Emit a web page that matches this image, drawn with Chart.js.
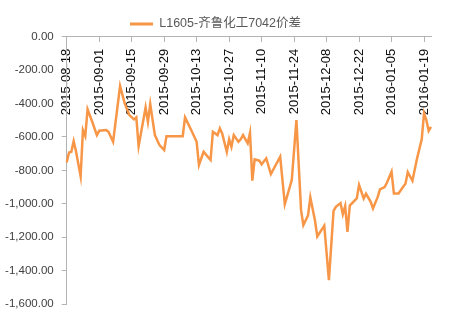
<!DOCTYPE html>
<html>
<head>
<meta charset="utf-8">
<script src="https://cdn.jsdelivr.net/npm/chart.js@4"></script>
<style>
html, body { margin: 0; padding: 0; background: #fff; }
</style>
</head>
<body>
<canvas id="chart" width="453" height="320"></canvas>
<script>
const seriesName = 'L1605-齐鲁化工7042价差';

const dates = [
    '2015-08-18', '2015-08-19', '2015-08-20', '2015-08-21', '2015-08-22', '2015-08-24', '2015-08-25', '2015-08-26',
    '2015-08-27', '2015-08-29', '2015-08-31', '2015-09-01', '2015-09-04', '2015-09-05', '2015-09-07', '2015-09-10',
    '2015-09-12', '2015-09-14', '2015-09-16', '2015-09-17', '2015-09-18', '2015-09-21', '2015-09-22', '2015-09-23',
    '2015-09-25', '2015-09-27', '2015-09-29', '2015-09-30', '2015-10-07', '2015-10-08', '2015-10-11', '2015-10-13',
    '2015-10-14', '2015-10-16', '2015-10-19', '2015-10-20', '2015-10-22', '2015-10-23', '2015-10-24', '2015-10-26',
    '2015-10-27', '2015-10-28', '2015-10-29', '2015-10-31', '2015-11-01', '2015-11-02', '2015-11-04', '2015-11-05',
    '2015-11-06', '2015-11-07', '2015-11-09', '2015-11-10', '2015-11-12', '2015-11-14', '2015-11-18', '2015-11-20',
    '2015-11-23', '2015-11-25', '2015-11-27', '2015-11-28', '2015-11-30', '2015-12-01', '2015-12-03', '2015-12-04',
    '2015-12-07', '2015-12-09', '2015-12-11', '2015-12-12', '2015-12-14', '2015-12-15', '2015-12-16', '2015-12-17',
    '2015-12-18', '2015-12-21', '2015-12-22', '2015-12-24', '2015-12-25', '2015-12-27', '2015-12-28', '2015-12-30',
    '2015-12-31', '2016-01-02', '2016-01-03', '2016-01-05', '2016-01-06', '2016-01-08', '2016-01-10', '2016-01-11',
    '2016-01-12', '2016-01-14', '2016-01-16', '2016-01-18', '2016-01-19', '2016-01-20', '2016-01-21', '2016-01-22'
];

const spread = [
    -753, -693, -689, -625, -685, -835, -559, -595,
    -435, -509, -589, -563, -559, -569, -629, -295,
    -399, -469, -495, -483, -655, -423, -509, -403,
    -589, -649, -678, -595, -595, -483, -569, -629,
    -768, -689, -738, -569, -589, -549, -579, -689,
    -614, -659, -589, -629, -614, -589, -638, -575,
    -862, -734, -742, -764, -728, -822, -718, -1002,
    -858, -499, -1038, -1128, -1070, -962, -1100, -1196,
    -1131, -1457, -1043, -1018, -996, -1063, -1014, -1168,
    -1011, -968, -888, -968, -940, -988, -1028, -960,
    -914, -900, -874, -808, -938, -938, -898, -880,
    -811, -862, -728, -614, -459, -499, -563, -539
];

const tickDates = [
    '2015-08-18', '2015-09-01', '2015-09-15', '2015-09-29', '2015-10-13', '2015-10-27',
    '2015-11-10', '2015-11-24', '2015-12-08', '2015-12-22', '2016-01-05', '2016-01-19'
];

const yMin = -1600;
const yMax = 0;
const yStep = 200;

// date axis: one category per calendar day
const days = [];
const last = new Date(dates[dates.length - 1] + 'T00:00:00Z');
for (let d = new Date(dates[0] + 'T00:00:00Z'); d <= last; d.setUTCDate(d.getUTCDate() + 1)) {
    days.push(d.toISOString().slice(0, 10));
}
const byDate = {};
dates.forEach((d, i) => { byDate[d] = spread[i]; });
const values = days.map(d => (d in byDate ? byDate[d] : null));

const axisColor = '#b3b3b3';
const fontFamily = '"Liberation Sans", Arial, "Noto Sans CJK SC", sans-serif';

new Chart(document.getElementById('chart'), {
    type: 'line',
    data: {
        labels: days,
        datasets: [{
            label: seriesName,
            data: values,
            borderColor: '#f79646',
            backgroundColor: '#f79646',
            borderWidth: 2.5,
            pointRadius: 0,
            tension: 0,
            spanGaps: true
        }]
    },
    options: {
        responsive: false,
        animation: false,
        devicePixelRatio: 1,
        layout: {
            padding: { top: 7.75, right: 22, bottom: 16, left: 0 }
        },
        plugins: {
            legend: {
                position: 'top',
                maxHeight: 29,
                labels: {
                    boxWidth: 23,
                    boxHeight: 3,
                    padding: 10,
                    color: '#595959',
                    font: { family: fontFamily, size: 12.5 },
                    generateLabels: chart => Chart.defaults.plugins.legend.labels.generateLabels(chart)
                        .map(item => ({ ...item, lineWidth: 0 }))
                }
            },
            tooltip: { enabled: false }
        },
        scales: {
            x: {
                type: 'category',
                position: { y: 0 },
                grid: {
                    drawOnChartArea: false,
                    tickLength: 5,
                    color: axisColor
                },
                border: { color: axisColor },
                ticks: {
                    autoSkip: false,
                    minRotation: 90,
                    maxRotation: 90,
                    padding: 7,
                    color: '#0d0d0d',
                    font: { family: fontFamily, size: 13 },
                    callback: function (value) {
                        const label = this.getLabelForValue(value);
                        return tickDates.includes(label) ? label : null;
                    }
                }
            },
            y: {
                position: 'left',
                min: yMin,
                max: yMax,
                afterFit: scale => { scale.width = 66.7; },
                grid: {
                    drawOnChartArea: false,
                    tickLength: 5,
                    color: axisColor
                },
                border: { color: axisColor },
                ticks: {
                    stepSize: yStep,
                    padding: 8,
                    color: '#404040',
                    font: { family: fontFamily, size: 11.5 },
                    callback: v => v.toLocaleString('en-US', { minimumFractionDigits: 2, maximumFractionDigits: 2 })
                }
            }
        }
    }
});
</script>
</body>
</html>
